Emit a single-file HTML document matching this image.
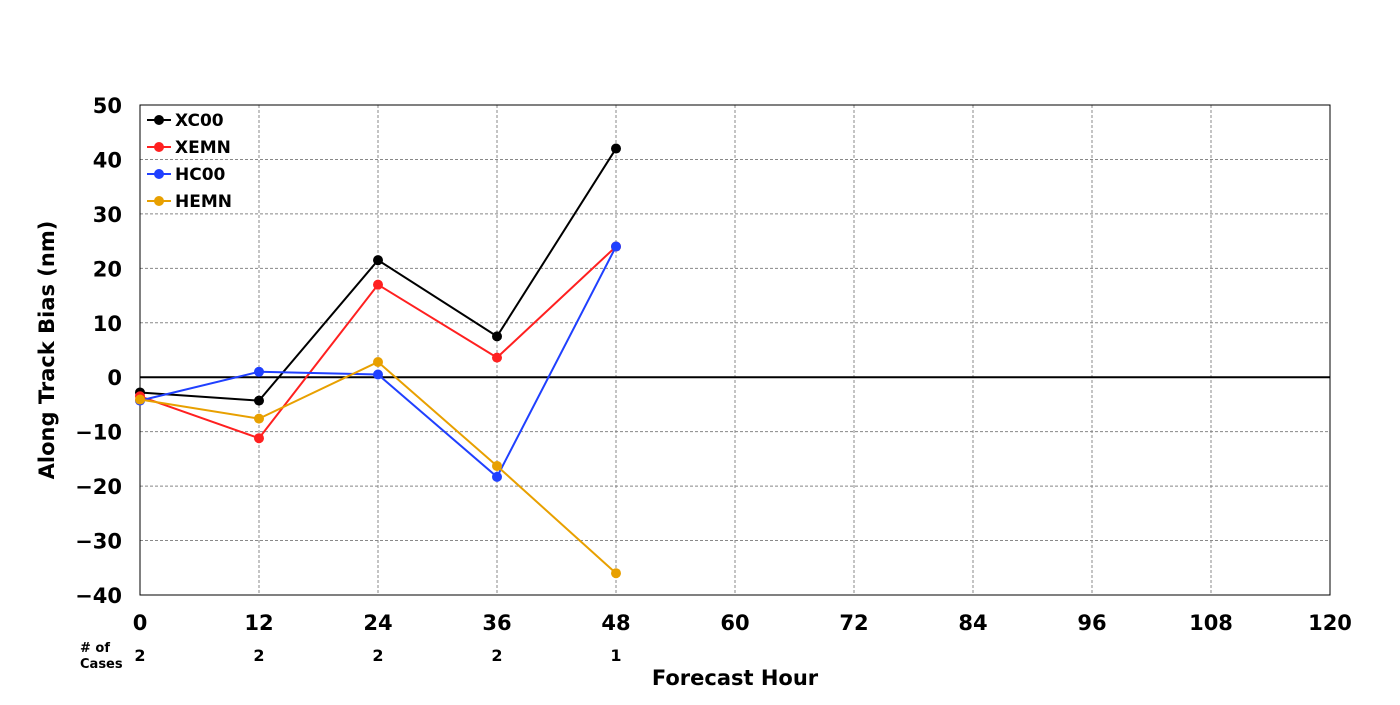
<!DOCTYPE html>
<html><head><meta charset="utf-8"><style>
body{margin:0;background:#fff}
svg text{font-family:"DejaVu Sans","Liberation Sans",sans-serif;font-weight:bold}
</style></head><body>
<svg id="chart" width="1400" height="700" xmlns="http://www.w3.org/2000/svg"></svg>
<script>
const hours=[0,12,24,36,48];
const xc00=[-2.8,-4.3,21.5,7.5,42];
const xemn=[-3.5,-11.2,17,3.6,24];
const hc00=[-4.3,1,0.5,-18.3,24];
const hemn=[-4.1,-7.6,2.8,-16.3,-36];
const cases=[2,2,2,2,1];
const xTicks=[0,12,24,36,48,60,72,84,96,108,120];
const yTicks=[50,40,30,20,10,0,-10,-20,-30,-40];
const seriesNames=["XC00","XEMN","HC00","HEMN"];
const seriesColors=["#000000","#ff2020","#2040ff","#e8a000"];
const L=140,R=1330,T=105,B=595;
const xs=v=>L+(v-0)/(120)*(R-L);
const ys=v=>T+(50-v)/90*(B-T);
const svg=document.getElementById('chart');
const NS="http://www.w3.org/2000/svg";
function el(tag,attrs,parent){const e=document.createElementNS(NS,tag);for(const k in attrs)e.setAttribute(k,attrs[k]);(parent||svg).appendChild(e);return e;}
function txt(s,attrs,name){const e=el('text',attrs);e.textContent=s;return e;}
// grid
xTicks.forEach(t=>{if(t>0&&t<120){const g=el('line',{x1:xs(t),x2:xs(t),y1:T,y2:B,stroke:'#888','stroke-dasharray':'3,2','stroke-width':1});
}
const tl=txt(String(t),{x:xs(t),y:630,'font-size':21,'text-anchor':'middle'},'x-tick-label');});
yTicks.forEach(t=>{if(t<50&&t>-40&&t!==0){const g=el('line',{x1:L,x2:R,y1:ys(t),y2:ys(t),stroke:'#888','stroke-dasharray':'3,2','stroke-width':1});
}
txt(String(t).replace('-','\u2212'),{x:122,y:ys(t)+8,'font-size':21,'text-anchor':'end'},'y-tick-label');});
const z=el('line',{x1:L,x2:R,y1:ys(0),y2:ys(0),stroke:'#000','stroke-width':2});

const fr=el('rect',{x:L,y:T,width:R-L,height:B-T,fill:'none',stroke:'#000','stroke-width':1});

// series
[xc00,xemn,hc00,hemn].forEach((d,i)=>{
 const g=el('g',{});
 const p=el('polyline',{points:d.map((v,j)=>xs(hours[j])+','+ys(v)).join(' '),fill:'none',stroke:seriesColors[i],'stroke-width':2},g);
 
 d.forEach((v,j)=>{const c=el('circle',{cx:xs(hours[j]),cy:ys(v),r:5,fill:seriesColors[i]},g);
 });
});
// legend
seriesNames.forEach((n,i)=>{const y=120+i*27;
 const g=el('g',{});
 el('line',{x1:147,x2:171,y1:y,y2:y,stroke:seriesColors[i],'stroke-width':2},g);
 el('circle',{cx:159,cy:y,r:5,fill:seriesColors[i]},g);
 const t=el('text',{x:175,y:y+6,'font-size':17},g);t.textContent=n;});
// cases
cases.forEach((c,j)=>txt(String(c),{x:xs(hours[j]),y:661,'font-size':16,'text-anchor':'middle'},'case-count'));
txt('# of',{x:80,y:652,'font-size':13},'cases-label');
txt('Cases',{x:80,y:668,'font-size':13},'cases-label');
txt('Forecast Hour',{x:735,y:685,'font-size':21,'text-anchor':'middle'},'x-axis-title');
txt('Along Track Bias (nm)',{x:54,y:350,'font-size':21,'text-anchor':'middle',transform:'rotate(-90 54 350)'},'y-axis-title');
</script>
</body></html>
